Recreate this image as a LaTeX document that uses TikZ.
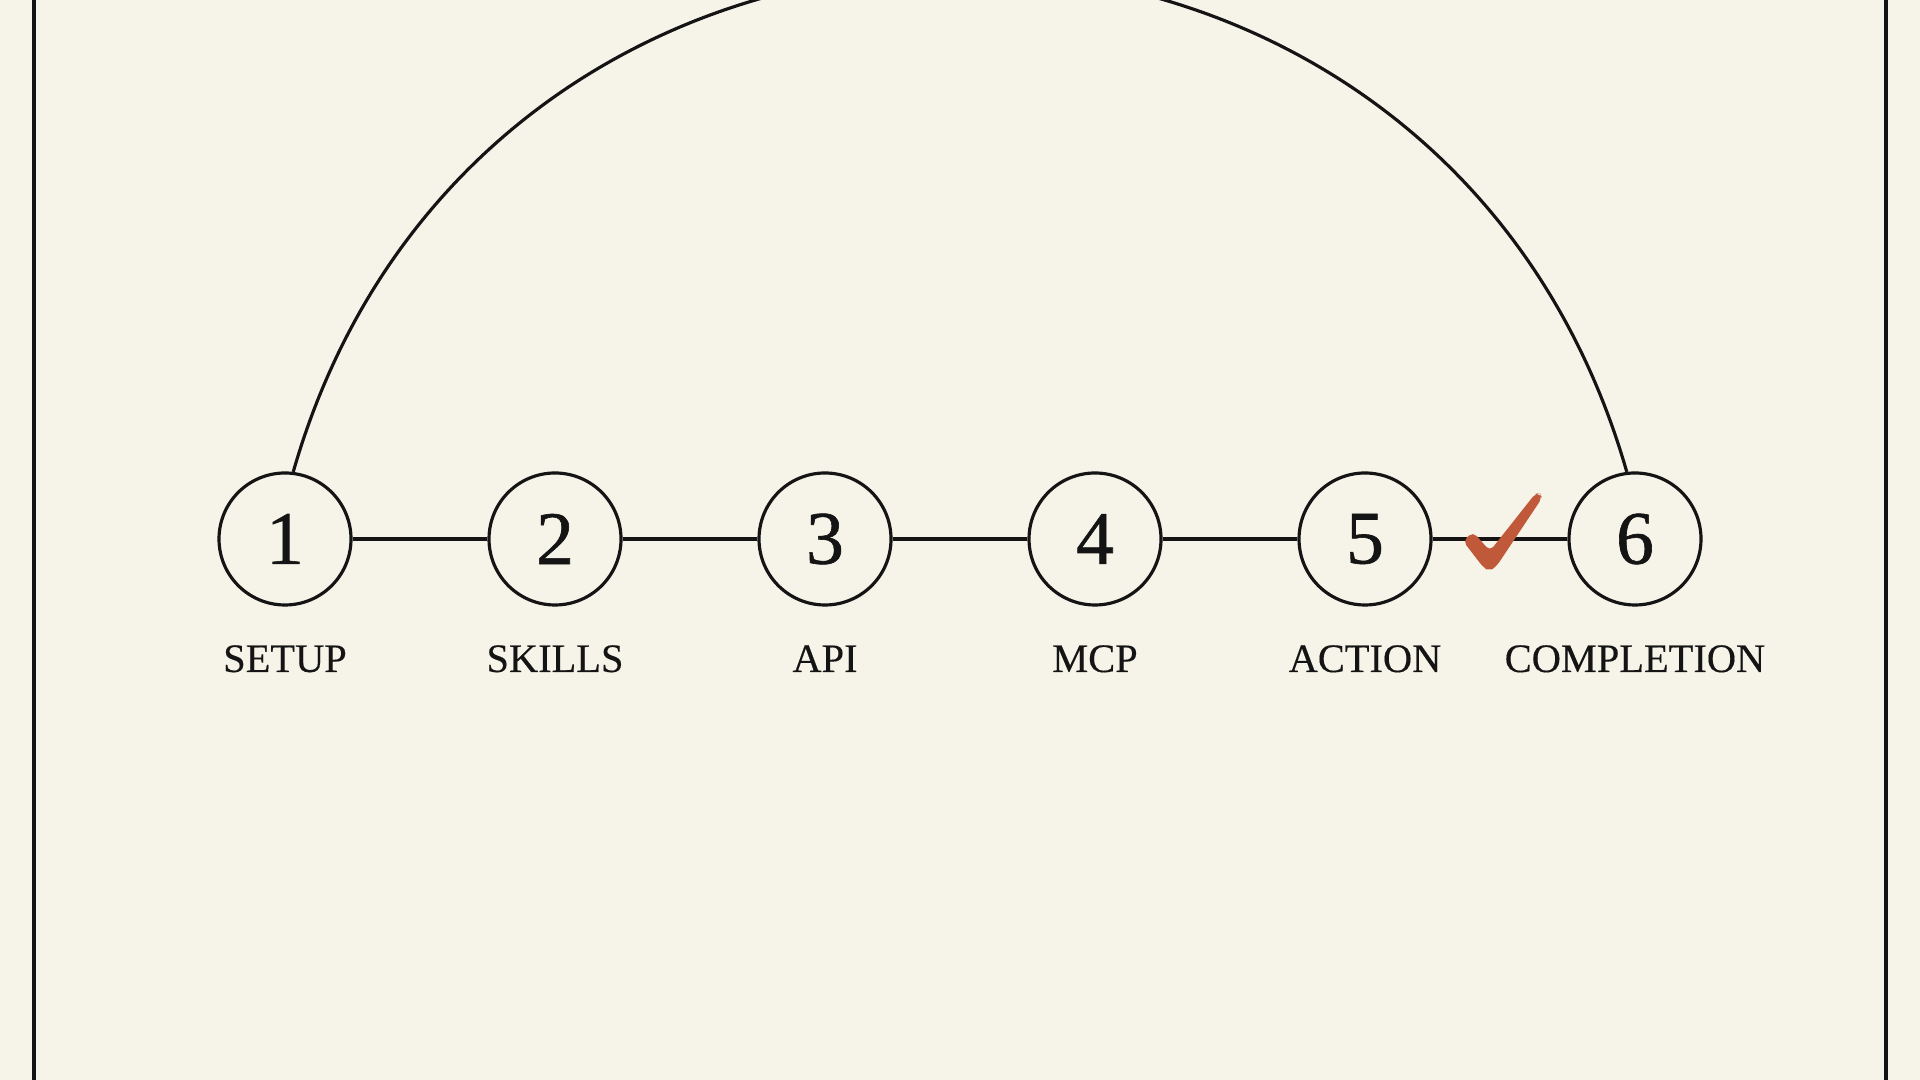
\documentclass[tikz,border=0pt]{standalone}
\usepackage{fontspec}
\setmainfont{Liberation Serif}
\newfontfamily\numfont{Liberation Serif}[FakeBold=0.8]
\newfontfamily\capfont{Liberation Serif}[FakeBold=0.3]
\usepackage{tikz}
\usetikzlibrary{positioning}
\definecolor{paper}{RGB}{246,243,232}
\definecolor{ink}{RGB}{20,20,20}
\definecolor{tick}{RGB}{192,88,58}

\begin{document}
\begin{tikzpicture}[
            stage/.style={circle, draw=ink, line width=1.8pt, minimum size=2.64cm, inner sep=0pt, text=ink, font=\numfont\fontsize{43}{43}\selectfont}, % numbered circles
            caption/.style={inner sep=0pt, text height=0.54cm, text depth=0pt, text=ink, font=\capfont\fontsize{23}{23}\selectfont}, % names under the circles
            link/.style={draw=ink, line width=1.8pt},
            node distance=5.4cm, on grid
            ]

                % page and the two side rules
                \fill[paper] (0,0) rectangle (38.4,21.6);
                \useasboundingbox (0,0) rectangle (38.4,21.6);
                \draw[ink, line width=2pt] (0.68,0) -- (0.68,21.6);
                \draw[ink, line width=2pt] (37.72,0) -- (37.72,21.6);

                % stages in one row
                \node[stage] (n1) at (5.7,10.82) {1};
                \node[stage, right=of n1] (n2) {2};
                \node[stage, right=of n2] (n3) {3};
                \node[stage, right=of n3] (n4) {4};
                \node[stage, right=of n4] (n5) {5};
                \node[stage, right=of n5] (n6) {6};

                % names below
                \foreach \i/\t in {1/SETUP, 2/SKILLS, 3/API, 4/MCP, 5/ACTION, 6/COMPLETION}
                    \node[caption, below=2.39cm of n\i] (c\i) {\t};

                % straight links and the big arc back
                \foreach \a/\b in {1/2, 2/3, 3/4, 4/5, 5/6}
                    \draw[link] (n\a) -- (n\b);
                \draw[link] (n1.83) to[out=74, in=106, looseness=1.337] (n6.97);

                % tick between 5 and 6
                \path (n5) -- (n6) coordinate[midway] (chk);
                \fill[tick, rounded corners=3pt]
                    ([shift={(-0.74,-0.04)}]chk) -- ([shift={(-0.54,0.14)}]chk)
                    -- ([shift={(-0.20,-0.24)}]chk) -- ([shift={(0.70,0.90)}]chk)
                    -- ([shift={(0.80,0.92)}]chk) -- ([shift={(0.84,0.82)}]chk)
                    -- ([shift={(-0.08,-0.56)}]chk) -- ([shift={(-0.22,-0.64)}]chk)
                    -- ([shift={(-0.34,-0.56)}]chk) -- cycle;

            \end{tikzpicture}
\end{document}
